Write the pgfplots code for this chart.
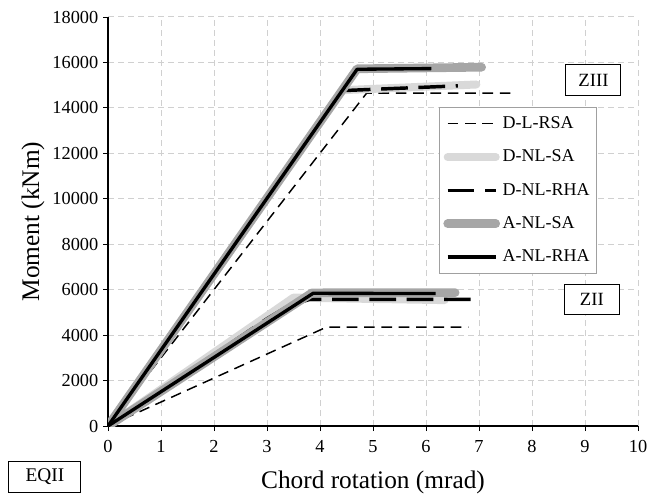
\documentclass[border=0pt]{standalone}
\usepackage{fontspec}
\setmainfont{Liberation Serif}
\usepackage{pgfplots}
\pgfplotsset{compat=1.18}
\definecolor{lgray}{HTML}{D9D9D9}
\definecolor{mgray}{HTML}{A6A6A6}
\definecolor{gridc}{HTML}{D0D0D0}
\definecolor{legc}{HTML}{A0A0A0}
\pgfplotsset{
  dlrsa/.style={black, line width=1.1pt, dash pattern=on 8pt off 5pt},
  dnlsa/.style={lgray, line width=6pt, line cap=round, line join=round},
  dnlrha/.style={black, line width=2.6pt, dash pattern=on 20pt off 8pt},
  anlsa/.style={mgray, line width=6.5pt, line cap=round, line join=round},
  anlrha/.style={black, line width=2.5pt, line join=round},
}
\begin{document}
\begin{tikzpicture}
\path[use as bounding box] (-81pt,-55.5pt) rectangle (408pt,319.5pt);
\begin{axis}[
  scale only axis, width=397.5pt, height=306.75pt,
  xmin=0, xmax=10, ymin=0, ymax=18000,
  xtick={0,1,...,10}, ytick={0,2000,...,18000},
  axis x line*=bottom, axis y line*=left,
  axis line style={-, line width=0.8pt, black},
  tick align=outside, major tick length=3.75pt,
  tick style={black, line width=0.6pt},
  grid=major,
  major grid style={gridc, dash pattern=on 4.5pt off 3pt, line width=0.75pt},
  /pgf/number format/assume math mode=true,
  /pgf/number format/1000 sep={},
  scaled y ticks=false,
  ticklabel style={font=\fontsize{13.75}{16}\selectfont},
  xticklabel style={yshift=-3.5pt},
  xlabel={Chord rotation (mrad)}, ylabel={Moment (kNm)},
  label style={font=\fontsize{19}{22}\selectfont},
  xlabel style={at={(axis description cs:0.5,-0.1516)}, anchor=base},
  ylabel style={at={(axis description cs:-0.1415,0.5)}, anchor=center},
  legend cell align=left,
  legend style={at={(axis description cs:0.6245,0.7807)}, anchor=north west,
    draw=legc, line width=0.6pt, fill=white,
    font=\fontsize{13.5}{16}\selectfont,
    inner xsep=3pt, inner ysep=0pt, row sep=0pt,
    nodes={inner ysep=0pt, inner xsep=2pt, text height=10pt, text depth=3pt, minimum height=25pt}},
  legend image code/.code={\draw[#1] (0pt,0pt) -- (36pt,0pt);},
]
% D-L-RSA
\addplot[dlrsa] coordinates {(0,0) (4.88,14650) (7.7,14650)};
\addlegendentry{D-L-RSA}
\addplot[dlrsa, forget plot] coordinates {(0,0) (4.12,4350) (6.8,4350)};
% D-NL-SA
\addplot[dnlsa] coordinates {(0,0) (4.43,14780) (6.95,15030)};
\addlegendentry{D-NL-SA}
\addplot[dnlsa, forget plot] coordinates {(0,0) (3.5,5650) (6.35,5540)};
% D-NL-RHA
\addplot[dnlrha] coordinates {(0,0) (4.42,14760) (6.6,14970)};
\addlegendentry{D-NL-RHA}
\addplot[dnlrha, forget plot] coordinates {(0,0) (3.0,4720) (3.4,5280) (3.8,5570) (7.0,5570)};
% A-NL-SA
\addplot[anlsa] coordinates {(0,0) (4.7,15720) (7.05,15790)};
\addlegendentry{A-NL-SA}
\addplot[anlsa, forget plot] coordinates {(0,0) (3.85,5860) (6.55,5870)};
% A-NL-RHA
\addplot[anlrha] coordinates {(0,0) (4.7,15700) (6.1,15730)};
\addlegendentry{A-NL-RHA}
\addplot[anlrha, forget plot] coordinates {(0,0) (3.87,5840) (6.18,5830)};

\node[draw=black, fill=white, line width=0.75pt, minimum width=41.25pt, minimum height=23.25pt, inner sep=0pt, font=\fontsize{14}{16}\selectfont] at (axis cs:9.16,15230) {ZIII};
\node[draw=black, fill=white, line width=0.75pt, minimum width=41.25pt, minimum height=22.5pt, inner sep=0pt, font=\fontsize{14}{16}\selectfont] at (axis cs:9.13,5574) {ZII};
\end{axis}
\node[draw=black, fill=white, line width=0.75pt, minimum width=54pt, minimum height=23.25pt, inner sep=0pt, font=\fontsize{14.5}{16}\selectfont] at (-47.25pt,-37.9pt) {EQII};
\end{tikzpicture}
\end{document}
